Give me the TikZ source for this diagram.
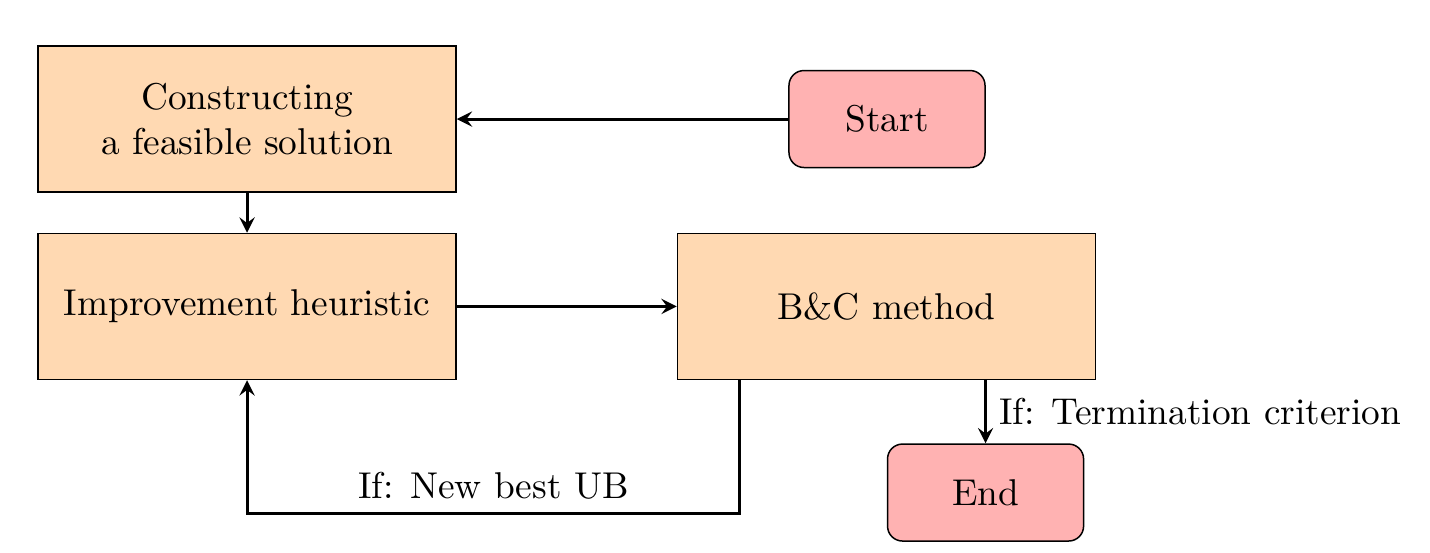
\documentclass[tikz,border=0pt]{standalone}
\usetikzlibrary{positioning, arrows.meta}
\usepackage{xcolor}

\begin{document}
\begin{tikzpicture}[
    stage/.style={draw, rectangle, fill=orange!30, minimum width=3.936cm, minimum height=1.375cm, align=center},
    term/.style={draw, rectangle, rounded corners=4pt, fill=red!30, minimum width=1.846cm, minimum height=0.913cm, align=center},
    arr/.style={->, thick, >=stealth}
]
    \useasboundingbox (0,0) rectangle (13.465,5.198);

    \node[stage] (construct) at (2.326, 4.077) {Constructing\\a feasible solution};
    \node[stage] (improve) at (2.326, 2.312) {Improvement heuristic};
    \node[stage] (bc) at (8.347, 2.312) {B\&C method};

    \node[term] (start) at (8.352, 4.077) {Start};
    \node[term] (end) at (9.280, 0.560) {End};

    \coordinate (loopR) at ([xshift=0.593cm]bc.south west |- 0,0.367);

    \draw[arr] (start) -- (construct);
    \draw[arr] (construct) -- (improve);
    \draw[arr] (improve) -- (bc);
    \draw[arr] ([xshift=0.593cm]bc.south west) -- (loopR) -- node[above] {If: New best UB} (loopR -| improve.south) -- (improve.south);
    \draw[arr] (bc.south -| end.north) -- node[right] {If: Termination criterion} (end.north);
\end{tikzpicture}
\end{document}
